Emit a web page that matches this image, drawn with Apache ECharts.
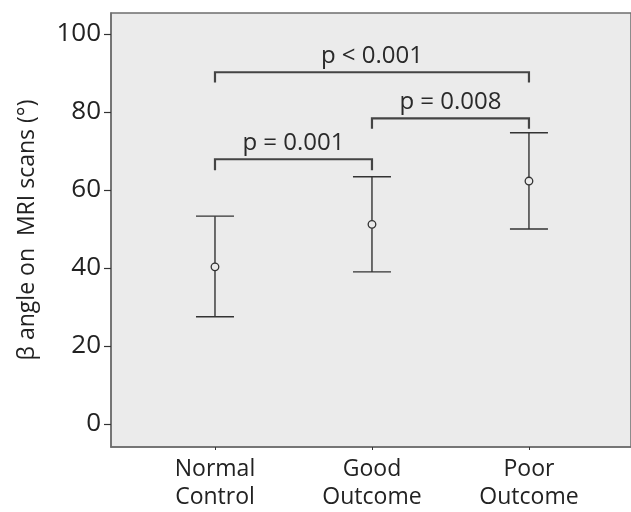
<!DOCTYPE html>
<html>
<head>
<meta charset="utf-8">
<script src="https://cdn.jsdelivr.net/npm/echarts@6/dist/echarts.min.js"></script>
<style>
  html, body { margin: 0; padding: 0; background: #fff; }
  #main { width: 631px; height: 512px; }
</style>
</head>
<body>
<div id="main"></div>
<script>
// groups on the x axis (placed at 1, 2, 3)
var categories = ['Normal\nControl', 'Good\nOutcome', 'Poor\nOutcome'];
var means = [40.3, 51.2, 62.3];
var lowers = [27.5, 39.0, 50.0];
var uppers = [53.3, 63.4, 74.7];
var yTicks = [0, 20, 40, 60, 80, 100];

// significance brackets: [from group, to group, bar height, end height]
var brackets = [
    [1, 3, 90.2, 87.6],
    [2, 3, 78.4, 75.7],
    [1, 2, 67.9, 65.1]
];
var pLabels = ['p < 0.001', 'p = 0.008', 'p = 0.001'];

var FONT = '"Open Sans", "DejaVu Sans", sans-serif';

var errData = categories.map(function (c, i) {
    return [i + 1, means[i], lowers[i], uppers[i]];
});
var bracketData = brackets.map(function (b, i) {
    return [b[0], b[1], b[2], b[3], pLabels[i]];
});

var chart = echarts.init(document.getElementById('main'));

var option = {
    backgroundColor: '#fff',
    animation: false,
    grid: {
        left: 111, right: 0, top: 13, bottom: 65,
        show: true,
        backgroundColor: '#ebebeb',
        borderColor: '#6e6e6e',
        borderWidth: 1.5
    },
    xAxis: {
        type: 'value',
        min: 0.3376,
        max: 3.65,
        splitLine: { show: false },
        axisLine: { show: true, onZero: false, lineStyle: { color: '#6e6e6e', width: 1.5 } },
        axisTick: { show: true, length: 3, customValues: [1, 2, 3], lineStyle: { color: '#333' } },
        axisLabel: {
            customValues: [1, 2, 3],
            formatter: function (v) { return categories[Math.round(v) - 1] || ''; },
            fontFamily: FONT,
            fontSize: 23,
            lineHeight: 28,
            color: '#222',
            margin: 8
        }
    },
    yAxis: {
        type: 'value',
        min: -5.9,
        max: 105.4,
        name: 'β angle on  MRI scans (°)',
        nameLocation: 'middle',
        nameRotate: 90,
        nameGap: 72,
        nameTextStyle: { fontFamily: FONT, fontSize: 23, color: '#222' },
        splitLine: { show: false },
        axisLine: { show: true, onZero: false, lineStyle: { color: '#6e6e6e', width: 1.5 } },
        axisTick: { show: true, length: 7, customValues: yTicks, lineStyle: { color: '#333', width: 1.2 } },
        axisLabel: {
            customValues: yTicks,
            fontFamily: FONT,
            fontSize: 26,
            color: '#222',
            margin: 10
        }
    },
    series: [
        {
            // error bars with hollow mean marker
            type: 'custom',
            data: errData,
            renderItem: function (params, api) {
                var x = api.value(0);
                var m = api.coord([x, api.value(1)]);
                var lo = api.coord([x, api.value(2)]);
                var hi = api.coord([x, api.value(3)]);
                var cap = 19;
                var st = { stroke: '#333', lineWidth: 1.4 };
                return {
                    type: 'group',
                    children: [
                        { type: 'line', shape: { x1: lo[0], y1: lo[1], x2: hi[0], y2: hi[1] }, style: st },
                        { type: 'line', shape: { x1: hi[0] - cap, y1: hi[1], x2: hi[0] + cap, y2: hi[1] }, style: st },
                        { type: 'line', shape: { x1: lo[0] - cap, y1: lo[1], x2: lo[0] + cap, y2: lo[1] }, style: st },
                        { type: 'circle', shape: { cx: m[0], cy: m[1], r: 3.8 }, style: { fill: '#ebebeb', stroke: '#333', lineWidth: 1.3 } }
                    ]
                };
            }
        },
        {
            // significance brackets with p labels
            type: 'custom',
            data: bracketData,
            renderItem: function (params, api) {
                var a = api.coord([api.value(0), api.value(2)]);
                var b = api.coord([api.value(1), api.value(2)]);
                var a2 = api.coord([api.value(0), api.value(3)]);
                var b2 = api.coord([api.value(1), api.value(3)]);
                var st = { stroke: '#444', lineWidth: 2.2, fill: null };
                return {
                    type: 'group',
                    children: [
                        { type: 'polyline', shape: { points: [a2, a, b, b2] }, style: st },
                        {
                            type: 'text',
                            x: (a[0] + b[0]) / 2,
                            y: a[1] - 4,
                            style: {
                                text: bracketData[params.dataIndex][4],
                                fontFamily: FONT,
                                fontSize: 24,
                                fill: '#2a2a2a',
                                align: 'center',
                                verticalAlign: 'bottom'
                            }
                        }
                    ]
                };
            }
        }
    ]
};

chart.setOption(option);
</script>
</body>
</html>
